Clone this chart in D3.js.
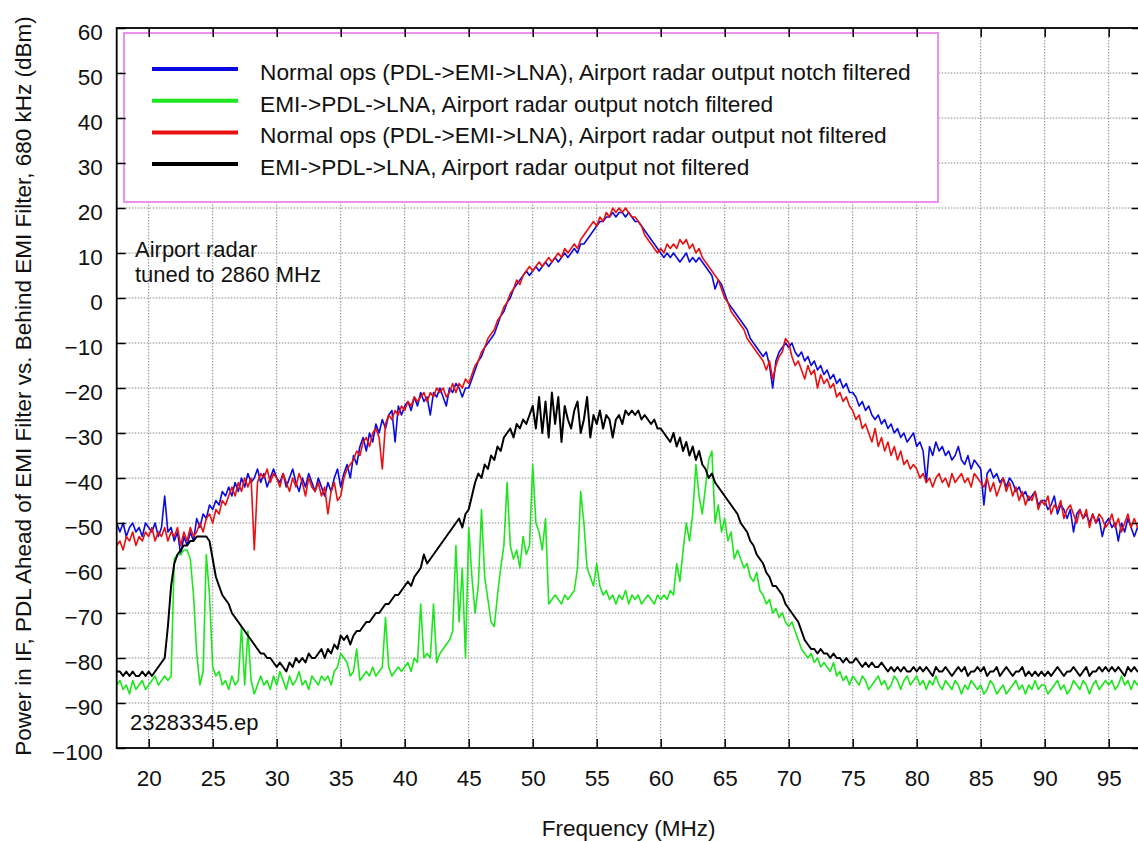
<!DOCTYPE html>
<html>
<head>
  <meta charset="utf-8">
  <title>Power in IF vs Frequency</title>
  <style>
    body {
      margin: 0;
      padding: 0;
      background-color: #fff;
    }
    svg {
      display: block;
      font-family: "Liberation Sans", Arial, sans-serif;
    }
    .tick text {
      font-size: 22.5px;
      fill: #111;
    }
    .label {
      font-size: 22px;
      fill: #111;
    }
    .title {
      font-size: 22.5px;
      fill: #111;
    }
    .legend-text {
      font-size: 22.7px;
      fill: #111;
    }
  </style>
</head>
<body>
  <svg id="chart" width="1138" height="841"></svg>

  <script src="https://d3js.org/d3.v7.min.js"></script>
  <script>
    // sweep starts at 17.5 MHz, one reading every 0.25 MHz
    const freqStart = 17.5;
    const freqStep = 0.25;

    // Normal ops (PDL->EMI->LNA), notch filtered
    const blueNotch = [
      -50,-52,-50,-53,-51,-50,-52,-51,-53,-50,
      -51,-52,-50,-53,-51,-44,-52,-51,-54,-52,-57,-53,-55,-52,-54,-49,-51,-48,-49,-46,
      -47,-45,-46,-43,-44,-42,-44,-41,-43,-40,-42,-39,-41,-40,-38,-41,-39,-42,-40,-38,
      -40,-41,-39,-42,-40,-38,-41,-43,-40,-42,-39,-41,-43,-40,-42,-44,-41,-43,-40,-38,
      -42,-39,-37,-40,-35,-37,-33,-31,-34,-30,-32,-28,-30,-27,-29,-26,-25,-32,-24,-26,
      -24,-23,-25,-22,-24,-21,-23,-22,-26,-21,-22,-20,-22,-24,-20,-21,-19,-20,-22,-20,
      -20,-18,-16,-14,-13,-11,-10,-9,-8,-6,-4,-3,-1,0,2,3,4,5,6,5,
      6,7,6,7,8,7,8,9,8,9,10,9,10,11,10,12,12,13,14,15,
      16,17,17,18,18,19,18,19,19,18,19,18,17,17,16,15,14,13,12,11,
      10,9,10,9,10,9,8,9,10,8,9,8,9,8,7,6,5,2,4,3,
      1,-1,-2,-3,-4,-5,-6,-7,-9,-10,-11,-12,-13,-12,-15,-20,-14,-12,-11,-10,
      -11,-10,-12,-13,-12,-14,-13,-15,-14,-16,-15,-17,-16,-18,-17,-19,-18,-20,-19,-21,
      -21,-22,-24,-23,-25,-24,-26,-27,-26,-28,-27,-29,-28,-30,-29,-31,-30,-32,-31,-30,
      -33,-32,-34,-41,-33,-35,-32,-34,-33,-35,-34,-36,-35,-33,-36,-37,-35,-38,-36,-37,
      -38,-46,-39,-38,-40,-39,-41,-40,-42,-40,-41,-43,-42,-44,-43,-45,-44,-43,-46,-45,
      -45,-47,-46,-44,-48,-46,-47,-49,-47,-52,-48,-47,-49,-48,-50,-48,-50,-49,-53,-50,
      -49,-51,-50,-54,-50,-52,-49,-51,-53,-51,-52
    ];

    // EMI->PDL->LNA, notch filtered
    const greenNotch = [
      -86,-85,-87,-86,-88,-85,-87,-86,-85,-87,
      -86,-85,-84,-86,-85,-84,-85,-84,-58,-57,-57,-56,-56,-58,-66,-79,-86,-83,-57,-66,
      -82,-84,-83,-86,-85,-87,-84,-86,-85,-73,-86,-74,-85,-88,-86,-84,-86,-85,-87,-84,
      -86,-83,-85,-87,-84,-86,-85,-83,-86,-85,-87,-84,-85,-86,-84,-85,-84,-86,-83,-82,
      -79,-80,-81,-84,-83,-78,-85,-84,-83,-84,-82,-84,-83,-82,-71,-82,-84,-83,-82,-83,
      -82,-81,-83,-80,-81,-68,-80,-79,-80,-68,-81,-79,-78,-77,-76,-74,-55,-72,-60,-80,
      -51,-62,-70,-64,-47,-62,-67,-72,-73,-66,-60,-55,-41,-55,-58,-56,-60,-53,-57,-55,
      -37,-50,-52,-56,-49,-68,-67,-66,-67,-68,-66,-67,-66,-65,-60,-43,-50,-60,-62,-64,
      -59,-64,-66,-65,-67,-66,-68,-66,-67,-65,-68,-66,-67,-66,-68,-67,-66,-67,-68,-66,
      -67,-66,-67,-65,-66,-59,-63,-56,-50,-54,-48,-37,-44,-48,-42,-36,-34,-50,-46,-52,
      -49,-54,-52,-58,-56,-58,-60,-59,-62,-63,-61,-65,-66,-68,-67,-70,-69,-71,-70,-72,
      -73,-72,-74,-76,-78,-79,-80,-79,-81,-80,-82,-81,-82,-83,-81,-84,-83,-85,-84,-86,
      -84,-85,-86,-84,-85,-87,-86,-85,-84,-86,-85,-87,-86,-84,-85,-87,-85,-84,-86,-85,
      -84,-86,-85,-87,-85,-86,-84,-86,-87,-85,-86,-87,-85,-86,-88,-86,-87,-85,-86,-87,
      -86,-88,-87,-85,-86,-88,-87,-86,-88,-87,-86,-85,-87,-86,-88,-86,-87,-85,-87,-86,
      -86,-88,-87,-86,-85,-87,-86,-88,-87,-85,-86,-87,-85,-86,-88,-86,-85,-87,-86,-85,
      -86,-85,-87,-86,-84,-86,-85,-87,-85,-86,-85
    ];

    // Normal ops (PDL->EMI->LNA), not filtered
    const redOpen = [
      -55,-54,-56,-53,-54,-52,-55,-53,-54,-52,
      -53,-51,-54,-52,-53,-51,-54,-52,-53,-51,-55,-52,-54,-51,-53,-52,-50,-52,-49,-48,
      -50,-47,-48,-45,-46,-44,-42,-44,-41,-43,-40,-42,-40,-56,-41,-39,-40,-38,-41,-39,
      -40,-42,-39,-41,-43,-40,-42,-39,-41,-44,-40,-42,-43,-41,-44,-42,-48,-43,-41,-45,
      -44,-40,-38,-37,-36,-34,-35,-32,-31,-33,-30,-29,-31,-38,-28,-26,-27,-25,-26,-24,
      -25,-23,-24,-22,-23,-22,-21,-23,-21,-22,-20,-21,-20,-22,-21,-19,-21,-19,-20,-18,
      -19,-17,-15,-14,-12,-11,-9,-8,-7,-5,-4,-2,-1,1,2,4,3,5,6,7,
      6,7,8,7,8,9,8,9,10,9,11,10,11,12,11,13,14,15,16,17,
      16,18,17,19,18,20,19,20,19,20,19,18,18,17,16,14,13,12,11,10,
      11,10,12,11,12,11,13,12,13,11,12,10,11,9,8,7,6,5,4,2,
      0,-1,-3,-4,-5,-6,-7,-9,-10,-11,-12,-13,-14,-16,-14,-18,-15,-13,-12,-9,
      -10,-13,-15,-14,-16,-18,-15,-17,-16,-20,-17,-19,-18,-20,-19,-22,-21,-23,-22,-24,
      -25,-27,-26,-29,-28,-30,-32,-29,-33,-31,-34,-32,-35,-33,-36,-34,-37,-36,-38,-37,
      -38,-40,-39,-41,-40,-42,-40,-39,-41,-40,-42,-39,-41,-40,-39,-41,-40,-42,-39,-40,
      -41,-42,-40,-43,-41,-44,-42,-40,-43,-41,-44,-42,-45,-43,-46,-44,-45,-43,-47,-45,
      -46,-44,-48,-46,-47,-45,-49,-47,-46,-48,-50,-47,-49,-47,-51,-48,-50,-48,-49,-51,
      -50,-48,-51,-49,-52,-50,-48,-51,-49,-51,-50
    ];

    // EMI->PDL->LNA, not filtered
    const blackOpen = [
      -83,-83,-84,-83,-84,-83,-84,-84,-83,-84,
      -83,-84,-83,-82,-81,-80,-73,-64,-59,-57,-56,-55,-55,-54,-54,-53,-53,-53,-53,-54,
      -58,-62,-64,-66,-67,-68,-70,-71,-72,-73,-74,-75,-76,-77,-78,-79,-79,-80,-80,-81,
      -82,-81,-82,-83,-81,-82,-80,-81,-80,-81,-79,-80,-80,-79,-78,-80,-78,-79,-77,-78,
      -75,-76,-75,-77,-75,-74,-74,-73,-72,-72,-71,-70,-70,-69,-68,-68,-67,-66,-66,-65,
      -64,-63,-64,-62,-61,-60,-57,-59,-58,-57,-56,-55,-54,-53,-52,-51,-50,-49,-51,-48,
      -47,-44,-41,-39,-40,-37,-38,-35,-36,-33,-34,-31,-30,-29,-31,-28,-29,-27,-28,-26,
      -24,-29,-22,-30,-23,-31,-21,-28,-22,-32,-24,-27,-29,-25,-23,-30,-27,-22,-31,-26,
      -28,-25,-29,-26,-27,-31,-27,-26,-28,-25,-26,-25,-26,-25,-27,-26,-27,-28,-27,-29,
      -29,-30,-31,-32,-30,-33,-31,-34,-32,-35,-33,-36,-34,-37,-38,-40,-39,-41,-42,-43,
      -44,-45,-46,-47,-48,-50,-51,-52,-54,-55,-57,-58,-59,-61,-62,-64,-64,-65,-66,-68,
      -69,-70,-71,-72,-74,-76,-77,-78,-78,-79,-78,-79,-79,-80,-79,-80,-80,-81,-80,-81,
      -81,-80,-81,-82,-81,-82,-81,-82,-82,-81,-82,-83,-82,-83,-82,-83,-82,-83,-83,-82,
      -83,-82,-83,-82,-83,-84,-82,-83,-83,-82,-83,-84,-83,-82,-83,-82,-84,-83,-83,-82,
      -83,-82,-84,-83,-83,-82,-84,-83,-82,-83,-84,-83,-83,-82,-84,-83,-84,-83,-84,-83,
      -84,-83,-84,-83,-82,-83,-84,-83,-83,-82,-83,-84,-83,-82,-84,-83,-83,-82,-83,-82,
      -83,-82,-83,-82,-83,-84,-82,-83,-82,-83,-83
    ];

    const xTicks = [20, 25, 30, 35, 40, 45, 50, 55, 60, 65, 70, 75, 80, 85, 90, 95];
    const yTicks = [60, 50, 40, 30, 20, 10, 0, -10, -20, -30, -40, -50, -60, -70, -80, -90, -100];

    const legendLabels = [
      'Normal ops (PDL->EMI->LNA), Airport radar output notch filtered',
      'EMI->PDL->LNA, Airport radar output notch filtered',
      'Normal ops (PDL->EMI->LNA), Airport radar output not filtered',
      'EMI->PDL->LNA, Airport radar output not filtered'
    ];
    const legendColors = ['#0a0ae0', '#1ee61e', '#ea1010', '#000000'];

    const series = [blueNotch, greenNotch, redOpen, blackOpen];

    const plotLeft = 116.7, plotRight = 1140.7, plotTop = 28, plotBottom = 748;

    const x = d3.scaleLinear().domain([17.5, 97.5]).range([plotLeft, plotRight]);
    const y = d3.scaleLinear().domain([-100, 60]).range([plotBottom, plotTop]);

    const svg = d3.select('#chart');

    svg.append('defs').append('clipPath').attr('id', 'plot-clip')
      .append('rect')
      .attr('x', plotLeft).attr('y', plotTop)
      .attr('width', plotRight - plotLeft).attr('height', plotBottom - plotTop);

    // dotted grid
    const grid = svg.append('g')
      .attr('stroke', '#8c8c8c')
      .attr('stroke-width', 1)
      .attr('stroke-dasharray', '1.5,1.5');

    grid.selectAll('line.vx')
      .data(xTicks)
      .enter().append('line')
      .attr('class', 'vx')
      .attr('x1', d => x(d)).attr('x2', d => x(d))
      .attr('y1', plotTop).attr('y2', plotBottom);

    grid.selectAll('line.hy')
      .data(yTicks.filter(d => d > -100 && d < 60))
      .enter().append('line')
      .attr('class', 'hy')
      .attr('x1', plotLeft).attr('x2', plotRight)
      .attr('y1', d => y(d)).attr('y2', d => y(d));

    // legend box sits on top of the grid
    const legend = svg.append('g');
    legend.append('rect')
      .attr('x', 124).attr('y', 33)
      .attr('width', 814).attr('height', 169)
      .attr('fill', '#fff')
      .attr('stroke', '#ee90ee')
      .attr('stroke-width', 2);

    legend.selectAll('line')
      .data(legendLabels)
      .enter().append('line')
      .attr('x1', 152).attr('x2', 238)
      .attr('y1', (d, i) => 69 + i * 31.7)
      .attr('y2', (d, i) => 69 + i * 31.7)
      .attr('stroke', (d, i) => legendColors[i])
      .attr('stroke-width', 4);

    legend.selectAll('text')
      .data(legendLabels)
      .enter().append('text')
      .attr('class', 'legend-text')
      .attr('x', 260)
      .attr('y', (d, i) => 80 + i * 31.7)
      .text(d => d);

    // data
    const line = d3.line()
      .x((d, i) => x(freqStart + i * freqStep))
      .y(d => y(d));

    svg.append('g')
      .attr('clip-path', 'url(#plot-clip)')
      .selectAll('path')
      .data(series)
      .enter().append('path')
      .attr('d', d => line(d))
      .attr('fill', 'none')
      .attr('stroke', (d, i) => legendColors[i])
      .attr('stroke-width', (d, i) => i === 3 ? 2 : 1.6)
      .attr('stroke-linejoin', 'round');

    // axes with inward ticks on all four sides
    svg.append('g')
      .attr('transform', `translate(0,${plotBottom})`)
      .call(d3.axisBottom(x).tickValues(xTicks).tickSizeInner(-9).tickSizeOuter(0).tickPadding(22));

    const leftAxis = svg.append('g')
      .attr('transform', `translate(${plotLeft},0)`)
      .call(d3.axisLeft(y).tickValues(yTicks).tickSizeInner(-9).tickSizeOuter(0).tickPadding(14));
    leftAxis.selectAll('.tick text').attr('dy', '0.5em');

    svg.append('g')
      .attr('transform', `translate(0,${plotTop})`)
      .call(d3.axisTop(x).tickValues(xTicks).tickSizeInner(-9).tickSizeOuter(0).tickFormat(''));

    svg.append('g')
      .attr('transform', `translate(${plotRight},0)`)
      .call(d3.axisRight(y).tickValues(yTicks).tickSizeInner(-9).tickSizeOuter(0).tickFormat(''));

    svg.selectAll('.domain').remove();
    svg.selectAll('.tick line').attr('stroke', '#000').attr('stroke-width', 1.5);

    svg.append('rect')
      .attr('x', plotLeft).attr('y', plotTop)
      .attr('width', plotRight - plotLeft).attr('height', plotBottom - plotTop)
      .attr('fill', 'none')
      .attr('stroke', '#000')
      .attr('stroke-width', 1.8);

    // notes inside the plot
    svg.append('text').attr('class', 'label').attr('x', 135).attr('y', 257).text('Airport radar');
    svg.append('text').attr('class', 'label').attr('x', 135).attr('y', 282).text('tuned to 2860 MHz');
    svg.append('text').attr('class', 'label').attr('x', 130).attr('y', 730).text('23283345.ep');

    // axis titles
    svg.append('text')
      .attr('class', 'title')
      .attr('x', (plotLeft + plotRight) / 2)
      .attr('y', 836)
      .attr('text-anchor', 'middle')
      .text('Frequency (MHz)');

    svg.append('text')
      .attr('class', 'title')
      .attr('transform', 'translate(31,386) rotate(-90)')
      .attr('text-anchor', 'middle')
      .text('Power in IF, PDL Ahead of EMI Filter vs. Behind EMI Filter, 680 kHz (dBm)');
  </script>
</body>
</html>
